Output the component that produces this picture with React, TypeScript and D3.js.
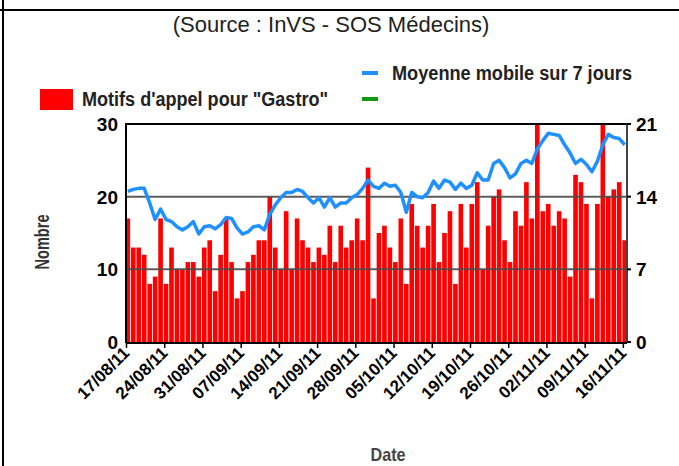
import React, { useEffect, useRef } from 'react';
import * as d3 from 'd3';

// daily "Gastro" calls, 17/08/11 -> 16/11/11
const gastroCalls = [
  17, 13, 13, 12, 8, 9, 17, 8, 13, 10, 10, 11, 11, 9, 13, 14,
  7, 12, 17, 11, 6, 7, 11, 12, 14, 14, 20, 13, 10, 18, 10,
  17, 14, 13, 11, 13, 12, 16, 11, 16, 13, 14, 17, 14, 24, 6,
  15, 16, 13, 11, 17, 8, 19, 16, 13, 16, 19, 11, 15, 18, 8,
  19, 13, 19, 22, 10, 16, 20, 21, 14, 11, 18, 16, 22, 17, 30,
  18, 19, 16, 18, 17, 9, 23, 22, 19, 6, 19, 30, 20, 21, 22, 14
];

// 7-day moving average (right axis)
const movingAverage = [
  14.5, 14.7, 14.8, 14.8, 13.4, 11.8, 12.8, 11.8, 11.6, 11.1, 10.8, 11.1, 11.6, 10.4, 11.1, 11.2,
  10.9, 11.3, 12.0, 11.9, 11.0, 10.4, 10.6, 11.1, 11.2, 10.8, 12.3, 13.2, 13.9, 14.4, 14.4,
  14.7, 14.5, 13.9, 13.4, 13.9, 13.0, 13.9, 13.0, 13.4, 13.4, 13.9, 14.2, 14.8, 15.6, 15.0,
  14.8, 15.3, 15.0, 15.1, 14.4, 12.5, 14.4, 14.0, 13.9, 14.4, 15.5, 14.8, 15.6, 15.4, 14.7,
  15.3, 14.8, 15.1, 16.3, 15.6, 15.6, 17.2, 17.5, 16.8, 15.8, 16.2, 17.2, 17.5, 17.2, 18.6,
  19.4, 20.1, 20.0, 19.9, 19.0, 18.2, 17.2, 17.6, 17.1, 16.4, 17.4, 19.0, 20.0, 19.7, 19.6, 19.0
];

const weekTicks = [
  '17/08/11', '24/08/11', '31/08/11', '07/09/11', '14/09/11', '21/09/11', '28/09/11',
  '05/10/11', '12/10/11', '19/10/11', '26/10/11', '02/11/11', '09/11/11', '16/11/11'
];
const leftTicks = [0, 10, 20, 30];
const rightTicks = [0, 7, 14, 21];

const fmt = d3.timeFormat('%d/%m/%y');
const days = d3.timeDay.range(new Date(2011, 7, 17), new Date(2011, 10, 17)).map(fmt);

const W = 679;
const H = 466;
const font = '"Liberation Sans", Arial, sans-serif';

const App = () => {
  const svgRef = useRef<SVGSVGElement>(null);

  useEffect(() => {
    const svg = d3.select(svgRef.current);
    svg.selectAll('*').remove();

    const left = 126, right = 627, top = 124, bottom = 342;

    const x = d3.scaleBand().domain(days).range([left - 0.5, right]).paddingInner(0.15).paddingOuter(0);
    const y = d3.scaleLinear().domain([0, 30]).range([bottom, top]);
    const y2 = d3.scaleLinear().domain([0, 21]).range([bottom, top]);
    const step = x.step();

    svg.append('rect').attr('width', W).attr('height', H).attr('fill', '#fff');

    // page frame
    svg.append('line').attr('x1', 0).attr('x2', W).attr('y1', 10).attr('y2', 10)
      .attr('stroke', '#000').attr('stroke-width', 2);
    svg.append('line').attr('x1', 3).attr('x2', 3).attr('y1', 0).attr('y2', H)
      .attr('stroke', '#000').attr('stroke-width', 2);

    svg.append('text').attr('x', 331).attr('y', 32).attr('text-anchor', 'middle')
      .style('font-family', font).style('font-size', '22px').attr('fill', '#222')
      .text('(Source : InVS - SOS Médecins)');

    // legend
    svg.append('line').attr('x1', 362).attr('x2', 378).attr('y1', 73).attr('y2', 73)
      .attr('stroke', '#1E90FF').attr('stroke-width', 4);
    svg.append('text').attr('x', 392).attr('y', 80).attr('textLength', 240).attr('lengthAdjust', 'spacingAndGlyphs')
      .style('font-family', font).style('font-size', '20px').style('font-weight', 'bold').attr('fill', '#222')
      .text('Moyenne mobile sur 7 jours');
    svg.append('line').attr('x1', 362).attr('x2', 378).attr('y1', 99).attr('y2', 99)
      .attr('stroke', '#119911').attr('stroke-width', 4);
    svg.append('rect').attr('x', 40).attr('y', 89).attr('width', 33).attr('height', 21).attr('fill', '#ff0000');
    svg.append('text').attr('x', 82).attr('y', 106).attr('textLength', 246).attr('lengthAdjust', 'spacingAndGlyphs')
      .style('font-family', font).style('font-size', '20px').style('font-weight', 'bold').attr('fill', '#222')
      .text('Motifs d\'appel pour "Gastro"');

    // bars
    svg.append('g').selectAll('rect').data(gastroCalls).join('rect')
      .attr('x', (_, i) => x(days[i])!)
      .attr('width', x.bandwidth())
      .attr('y', d => y(Math.min(d, 30)))
      .attr('height', d => bottom - y(Math.min(d, 30)))
      .attr('fill', '#ff0000');

    // grid lines at 10 / 20
    svg.append('g').selectAll('line').data([10, 20]).join('line')
      .attr('x1', left).attr('x2', right).attr('y1', d => y(d)).attr('y2', d => y(d))
      .attr('stroke', '#4a4a4a').attr('stroke-opacity', 0.9).attr('stroke-width', 2);

    // moving average line
    const line = d3.line<number>()
      .x((_, i) => x(days[i])! - (step - x.bandwidth()) / 2 + step / 2)
      .y(d => y2(d));
    svg.append('path').datum(movingAverage).attr('d', line)
      .attr('fill', 'none').attr('stroke', '#1E90FF').attr('stroke-width', 3.5)
      .attr('stroke-linejoin', 'round');

    // frame of plot
    svg.append('line').attr('x1', left).attr('x2', right).attr('y1', top).attr('y2', top)
      .attr('stroke', '#000').attr('stroke-width', 2);
    svg.append('line').attr('x1', right).attr('x2', right).attr('y1', top).attr('y2', bottom)
      .attr('stroke', '#444').attr('stroke-width', 2);
    svg.append('line').attr('x1', left).attr('x2', left).attr('y1', top - 1).attr('y2', bottom + 1)
      .attr('stroke', '#000').attr('stroke-width', 2);
    svg.append('line').attr('x1', left).attr('x2', right).attr('y1', bottom + 1).attr('y2', bottom + 1)
      .attr('stroke', '#000').attr('stroke-width', 2);

    // left axis labels
    svg.append('g').selectAll('text').data(leftTicks).join('text')
      .attr('x', 118).attr('y', d => y(d)).attr('dy', '0.36em').attr('text-anchor', 'end')
      .style('font-family', font).style('font-size', '19px').style('font-weight', 'bold').attr('fill', '#000')
      .text(d => d);

    // right axis
    svg.append('g').selectAll('line').data(rightTicks).join('line')
      .attr('x1', right).attr('x2', right + 4).attr('y1', d => y2(d)).attr('y2', d => y2(d))
      .attr('stroke', '#000').attr('stroke-width', 2);
    svg.append('g').selectAll('text').data(rightTicks).join('text')
      .attr('x', 636).attr('y', d => y2(d)).attr('dy', '0.36em').attr('text-anchor', 'start')
      .style('font-family', font).style('font-size', '19px').style('font-weight', 'bold').attr('fill', '#000')
      .text(d => d);

    // x ticks
    const xt = svg.append('g');
    xt.selectAll('line').data(weekTicks).join('line')
      .attr('x1', d => x(d)! + 1).attr('x2', d => x(d)! + 1).attr('y1', bottom).attr('y2', bottom + 6)
      .attr('stroke', '#000').attr('stroke-width', 1.5);
    xt.selectAll('text').data(weekTicks).join('text')
      .attr('transform', d => `translate(${x(d)! + 5},${bottom + 12}) rotate(-45)`)
      .attr('text-anchor', 'end')
      .style('font-family', font).style('font-size', '17px').style('font-weight', 'bold').attr('fill', '#000')
      .text(d => d);

    // axis titles
    svg.append('text').attr('transform', 'translate(49,242) rotate(-90)').attr('text-anchor', 'middle')
      .attr('textLength', 55).attr('lengthAdjust', 'spacingAndGlyphs')
      .style('font-family', font).style('font-size', '20px').style('font-weight', 'bold').attr('fill', '#333')
      .text('Nombre');
    svg.append('text').attr('x', 388).attr('y', 461).attr('text-anchor', 'middle')
      .attr('textLength', 35).attr('lengthAdjust', 'spacingAndGlyphs')
      .style('font-family', font).style('font-size', '19px').style('font-weight', 'bold').attr('fill', '#444')
      .text('Date');
  }, []);

  return (
    <svg ref={svgRef} width={W} height={H} style={{ position: 'absolute', left: 0, top: 0 }} />
  );
};

export default App;
